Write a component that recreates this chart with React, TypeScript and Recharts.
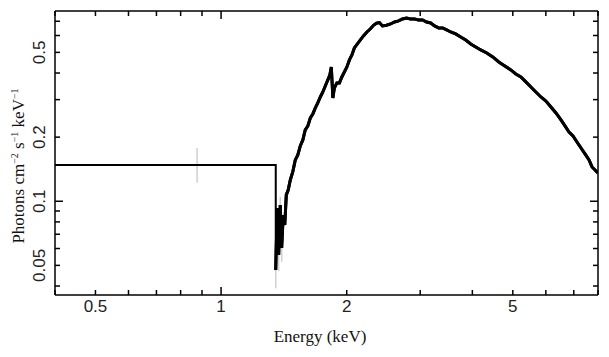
import React from 'react';
import { LineChart, Line, XAxis, YAxis, ErrorBar } from 'recharts';

// Low-energy wide bin (step) in keV and photons cm^-2 s^-1 keV^-1
const stepEnergy = [0.4, 1.352, 1.352];
const stepFlux = [0.1481, 0.1481, 0.0476];

// Spectrum bins
const specEnergy = [
  1.352, 1.363, 1.374, 1.386, 1.397, 1.409, 1.421, 1.433, 1.448, 1.465,
  1.485, 1.506, 1.527, 1.548, 1.570, 1.591, 1.614, 1.636, 1.659, 1.682,
  1.705, 1.729, 1.753, 1.777, 1.802, 1.822, 1.837, 1.853, 1.868, 1.894,
  1.921, 1.947, 1.974, 2.002, 2.030, 2.058, 2.086, 2.121, 2.157, 2.193,
  2.236, 2.280, 2.318, 2.357, 2.396, 2.436, 2.491, 2.547, 2.604, 2.662,
  2.721, 2.782, 2.844, 2.908, 2.973, 3.040, 3.107, 3.177, 3.248, 3.321,
  3.395, 3.471, 3.549, 3.648, 3.751, 3.856, 3.964, 4.075, 4.189, 4.331,
  4.477, 4.628, 4.784, 4.946, 5.084, 5.227, 5.374, 5.525, 5.679, 5.839,
  6.002, 6.171, 6.344, 6.522, 6.668, 6.817, 6.969, 7.124, 7.285, 7.447,
  7.614, 7.741, 7.871, 7.995,
];
const specFlux = [
  0.0476, 0.0930, 0.0560, 0.0961, 0.0604, 0.0862, 0.0774, 0.1071, 0.1130, 0.1259,
  0.1373, 0.1563, 0.1650, 0.1818, 0.1940, 0.2161, 0.2257, 0.2461, 0.2570, 0.2742,
  0.2894, 0.3087, 0.3259, 0.3477, 0.3711, 0.3917, 0.4271, 0.3055, 0.3403, 0.3594,
  0.3594, 0.3833, 0.4046, 0.4271, 0.4607, 0.4863, 0.5245, 0.5476, 0.5718, 0.5971,
  0.6233, 0.6450, 0.6700, 0.6850, 0.6900, 0.6650, 0.6700, 0.6797, 0.6946, 0.7022,
  0.7176, 0.7254, 0.7176, 0.7176, 0.7099, 0.7099, 0.6946, 0.6871, 0.6653, 0.6510,
  0.6510, 0.6371, 0.6233, 0.6101, 0.5907, 0.5718, 0.5476, 0.5302, 0.5133, 0.4970,
  0.4759, 0.4508, 0.4318, 0.4135, 0.3960, 0.3833, 0.3633, 0.3441, 0.3259, 0.3087,
  0.2957, 0.2771, 0.2597, 0.2408, 0.2257, 0.2115, 0.2026, 0.1898, 0.1779, 0.1668,
  0.1563, 0.1449, 0.1403, 0.1358,
];

// Faint error bars (centre, lower, upper)
const errEnergy = [0.876, 1.352, 1.374, 1.386, 1.397];
const errFlux = [0.1481, 0.0476, 0.056, 0.0961, 0.0604];
const errLower = [0.122, 0.039, 0.047, 0.080, 0.052];
const errUpper = [0.178, 0.056, 0.075, 0.105, 0.070];

// Axis ticks
const xTicks = [0.4, 0.5, 0.6, 0.7, 0.8, 0.9, 1, 2, 3, 4, 5, 6, 7, 8];
const xLabels = [0.5, 1, 2, 5];
const xDecades = [1];
const yTicks = [0.04, 0.05, 0.06, 0.07, 0.08, 0.09, 0.1, 0.2, 0.3, 0.4, 0.5, 0.6, 0.7];
const yLabels = [0.05, 0.1, 0.2, 0.5];
const yDecades = [0.1];

const stepData = stepEnergy.map((E, i) => ({ E, F: stepFlux[i] }));
const specData = specEnergy.map((E, i) => ({ E, F: specFlux[i] }));
const errData = errEnergy.map((E, i) => ({
  E,
  F: errFlux[i],
  err: [errFlux[i] - errLower[i], errUpper[i] - errFlux[i]],
}));

const TICK_FONT = 'Liberation Sans, Arial, sans-serif';
const TITLE_FONT = 'Liberation Serif, Times New Roman, serif';

function Chart() {
  const BottomTick = (props: any) => {
    const { x, y, payload } = props;
    const v = payload.value;
    const len = xDecades.includes(v) ? 8 : 5;
    return (
      <g>
        <line x1={x} y1={y} x2={x} y2={y - len} stroke="black" strokeWidth={1.5} />
        {xLabels.includes(v) ? (
          <text x={x} y={y + 17} textAnchor="middle" fontFamily={TICK_FONT} fontSize={17} fill="#222">
            {String(v)}
          </text>
        ) : null}
      </g>
    );
  };
  const LeftTick = (props: any) => {
    const { x, y, payload } = props;
    const v = payload.value;
    const len = yDecades.includes(v) ? 8 : 5;
    const tx = x - 10;
    return (
      <g>
        <line x1={x} y1={y} x2={x + len} y2={y} stroke="black" strokeWidth={1.5} />
        {yLabels.includes(v) ? (
          <text x={tx} y={y} transform={`rotate(-90, ${tx}, ${y})`} textAnchor="middle" fontFamily={TICK_FONT} fontSize={17} fill="#222">
            {String(v)}
          </text>
        ) : null}
      </g>
    );
  };
  const TopTick = (props: any) => {
    const len = xDecades.includes(props.payload.value) ? 8 : 5;
    return <line x1={props.x} y1={props.y} x2={props.x} y2={props.y + len} stroke="black" strokeWidth={1.5} />;
  };
  const RightTick = (props: any) => {
    const len = yDecades.includes(props.payload.value) ? 8 : 5;
    return <line x1={props.x} y1={props.y} x2={props.x - len} y2={props.y} stroke="black" strokeWidth={1.5} />;
  };
  return (
    <LineChart width={609} height={357} margin={{ top: 0, right: 0, bottom: 0, left: 0 }}>
      <XAxis xAxisId="bottom" orientation="bottom" dataKey="E" type="number" scale="log" domain={[0.4, 8]} allowDataOverflow
        ticks={xTicks} interval={0} tickSize={-10} tickMargin={10} tickLine={false}
        tick={(p: any) => <BottomTick {...p} />} axisLine={{ stroke: 'black', strokeWidth: 1.5 }} height={62}
        label={(p: any) => (
          <text x={320} y={342} textAnchor="middle" fontFamily={TITLE_FONT} fontSize={17} fill="#111">Energy (keV)</text>
        )} />
      <XAxis xAxisId="top" orientation="top" dataKey="E" type="number" scale="log" domain={[0.4, 8]} allowDataOverflow
        ticks={xTicks} interval={0} tickSize={-10} tickMargin={10} tickLine={false}
        tick={(p: any) => <TopTick {...p} />} axisLine={{ stroke: 'black', strokeWidth: 1.5 }} height={11} />
      <YAxis yAxisId="left" orientation="left" dataKey="F" type="number" scale="log" domain={[0.0363, 0.782]} allowDataOverflow
        ticks={yTicks} interval={0} tickSize={-10} tickMargin={10} tickLine={false}
        tick={(p: any) => <LeftTick {...p} />} axisLine={{ stroke: 'black', strokeWidth: 1.5 }} width={55}
        label={(p: any) => (
          <text x={23.5} y={166} transform="rotate(-90, 23.5, 166)" textAnchor="middle" fontFamily={TITLE_FONT} fontSize={17} fill="#111">
            <tspan>Photons cm</tspan>
            <tspan dy={-6} fontSize={10}>−2</tspan>
            <tspan dy={6}> s</tspan>
            <tspan dy={-6} fontSize={10}>−1</tspan>
            <tspan dy={6}> keV</tspan>
            <tspan dy={-6} fontSize={10}>−1</tspan>
          </text>
        )} />
      <YAxis yAxisId="right" orientation="right" dataKey="F" type="number" scale="log" domain={[0.0363, 0.782]} allowDataOverflow
        ticks={yTicks} interval={0} tickSize={-10} tickMargin={10} tickLine={false}
        tick={(p: any) => <RightTick {...p} />} axisLine={{ stroke: 'black', strokeWidth: 1.5 }} width={11} />
      <Line xAxisId="top" yAxisId="right" data={specData} dataKey="F" stroke="#000" strokeWidth={3} dot={false} isAnimationActive={false} />
      <Line xAxisId="bottom" yAxisId="left" data={errData} dataKey="F" stroke="none" dot={false} isAnimationActive={false}>
        <ErrorBar dataKey="err" direction="y" width={0} stroke="#cfcfcf" strokeWidth={1.5} />
      </Line>
      <Line xAxisId="bottom" yAxisId="left" data={stepData} dataKey="F" stroke="#000" strokeWidth={2} dot={false} isAnimationActive={false} />
      <Line xAxisId="bottom" yAxisId="left" data={specData} dataKey="F" stroke="#000" strokeWidth={3} dot={false} isAnimationActive={false} />
    </LineChart>
  );
}

export default function App() {
  return (
    <div style={{ position: 'absolute', left: 0, top: 0, width: 609, height: 357, background: '#fff' }}>
      <Chart />
    </div>
  );
}
